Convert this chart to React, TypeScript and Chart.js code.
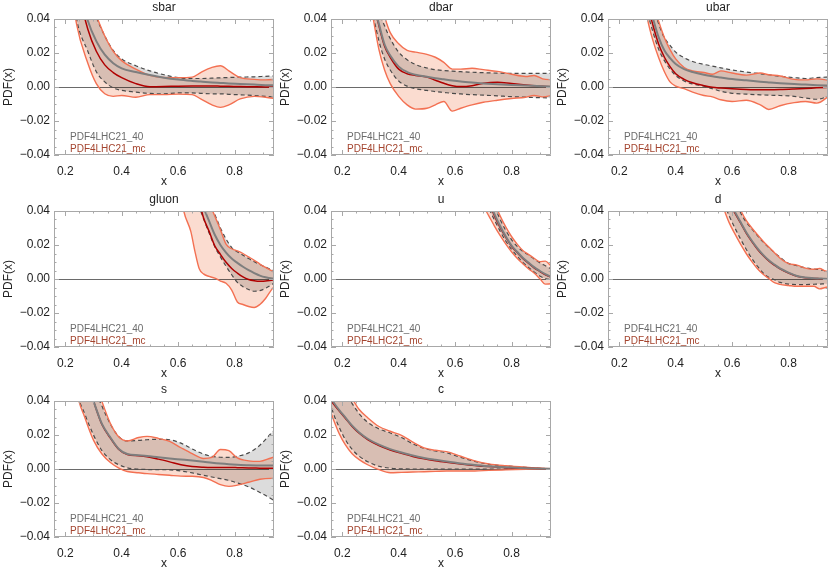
import React, { useEffect, useRef } from 'react';
import { Chart, registerables } from 'chart.js';

Chart.register(...registerables);
Chart.defaults.font.family = "'Liberation Sans', Arial, Helvetica, sans-serif";
Chart.defaults.color = '#222';

// ---------- axes / ticks ----------
const X_MIN = 0.16;
const X_MAX = 0.94;
const Y_MIN = -0.04;
const Y_MAX = 0.04;
const xTickValues = [0.2, 0.25, 0.3, 0.35, 0.4, 0.45, 0.5, 0.55, 0.6, 0.65, 0.7, 0.75, 0.8, 0.85, 0.9];
const xMajorTicks = [0.2, 0.4, 0.6, 0.8];
const yTickValues = [-0.04, -0.035, -0.03, -0.025, -0.02, -0.015, -0.01, -0.005, 0, 0.005, 0.01, 0.015, 0.02, 0.025, 0.03, 0.035, 0.04];
const yMajorTicks = [-0.04, -0.02, 0, 0.02, 0.04];
const legendLabels = ['PDF4LHC21_40', 'PDF4LHC21_mc'];
const xAxisTitle = 'x';
const yAxisTitle = 'PDF(x)';

// ---------- sbar ----------
const sbarX = [0.2, 0.24, 0.28, 0.31, 0.34, 0.37, 0.4, 0.45, 0.5, 0.55, 0.6, 0.65, 0.68, 0.72, 0.75, 0.78, 0.82, 0.87, 0.91, 0.95];
const sbar40Up = [0.15, 0.09, 0.054, 0.041, 0.03, 0.0215, 0.0165, 0.0125, 0.0095, 0.0072, 0.0055, 0.005, 0.005, 0.0052, 0.0054, 0.0056, 0.0058, 0.006, 0.0063, 0.0066];
const sbar40Lo = [0.09, 0.04, 0.021, 0.009, 0.003, -0.0005, -0.002, -0.003, -0.0038, -0.004, -0.0035, -0.0035, -0.0037, -0.004, -0.004, -0.0043, -0.0046, -0.005, -0.0055, -0.006];
const sbar40Mid = [0.12, 0.065, 0.039, 0.027, 0.019, 0.014, 0.011, 0.0088, 0.007, 0.0055, 0.0044, 0.0036, 0.0032, 0.0027, 0.0024, 0.0021, 0.0018, 0.0014, 0.0011, 0.0009];
const sbarMcUp = [0.15, 0.09, 0.055, 0.042, 0.03, 0.021, 0.0155, 0.0105, 0.0068, 0.0056, 0.0055, 0.0058, 0.0085, 0.0115, 0.0125, 0.0095, 0.0055, 0.0045, 0.0042, 0.0045];
const sbarMcLo = [0.085, 0.037, 0.014, 0.002, -0.004, -0.0055, -0.005, -0.006, -0.0045, -0.0045, -0.0042, -0.0045, -0.007, -0.0105, -0.012, -0.0105, -0.007, -0.0055, -0.006, -0.007];
const sbarMcMid = [0.11, 0.062, 0.034, 0.021, 0.013, 0.0085, 0.0055, 0.002, 0.0002, 0.0003, 0.0005, 0.0006, 0.0006, 0.0006, 0.0005, 0.0004, 0.0003, 0.0001, 0, 0];

// ---------- dbar ----------
const dbarX = [0.28, 0.31, 0.33, 0.35, 0.37, 0.4, 0.43, 0.46, 0.5, 0.53, 0.56, 0.59, 0.62, 0.66, 0.7, 0.75, 0.8, 0.85, 0.88, 0.91, 0.95];
const dbar40Up = [0.09, 0.06, 0.045, 0.036, 0.0285, 0.0205, 0.016, 0.0132, 0.0112, 0.0102, 0.0097, 0.0093, 0.009, 0.0087, 0.0084, 0.0082, 0.008, 0.008, 0.008, 0.008, 0.0081];
const dbar40Lo = [0.07, 0.042, 0.027, 0.0165, 0.01, 0.0035, 0.0005, -0.001, -0.002, -0.0027, -0.0032, -0.0037, -0.0041, -0.0045, -0.0048, -0.0052, -0.0057, -0.006, -0.0062, -0.0063, -0.0065];
const dbar40Mid = [0.08, 0.05, 0.037, 0.025, 0.0185, 0.012, 0.0088, 0.0072, 0.006, 0.0052, 0.0045, 0.0038, 0.0032, 0.0026, 0.0021, 0.0016, 0.0012, 0.0009, 0.0007, 0.0005, 0.0003];
const dbarMcUp = [0.11, 0.07, 0.055, 0.0415, 0.032, 0.0255, 0.0215, 0.0205, 0.0192, 0.0175, 0.0145, 0.0105, 0.0105, 0.011, 0.0102, 0.0092, 0.0075, 0.0062, 0.0068, 0.0048, 0.0042];
const dbarMcLo = [0.07, 0.04, 0.022, 0.01, 0.002, -0.0055, -0.0105, -0.013, -0.0125, -0.0105, -0.0085, -0.0142, -0.0125, -0.0105, -0.009, -0.0078, -0.0068, -0.006, -0.005, -0.0058, -0.0048];
const dbarMcMid = [0.08, 0.05, 0.036, 0.024, 0.0175, 0.0105, 0.0078, 0.0068, 0.0058, 0.004, 0.0022, 0.0008, 0.0003, 0.0008, 0.0022, 0.0028, 0.002, 0.0012, 0.0008, 0.0004, 0];

// ---------- ubar ----------
const ubarX = [0.27, 0.3, 0.32, 0.34, 0.36, 0.38, 0.4, 0.43, 0.46, 0.5, 0.53, 0.56, 0.6, 0.65, 0.7, 0.73, 0.77, 0.82, 0.86, 0.9, 0.95];
const ubar40Up = [0.1, 0.062, 0.048, 0.037, 0.029, 0.0245, 0.0205, 0.0172, 0.015, 0.0133, 0.0123, 0.0113, 0.01, 0.0088, 0.0078, 0.0072, 0.0063, 0.0055, 0.005, 0.0055, 0.006];
const ubar40Lo = [0.08, 0.045, 0.032, 0.022, 0.0155, 0.0105, 0.0068, 0.0035, 0.0018, 0.0005, -0.001, -0.0025, -0.0037, -0.0042, -0.0046, -0.0048, -0.005, -0.0055, -0.0065, -0.0072, -0.005];
const ubar40Mid = [0.09, 0.053, 0.04, 0.029, 0.0215, 0.017, 0.0135, 0.0105, 0.0088, 0.0072, 0.0063, 0.0056, 0.0047, 0.0039, 0.0031, 0.0027, 0.0022, 0.0017, 0.0014, 0.0011, 0.0008];
const ubarMcUp = [0.11, 0.07, 0.05, 0.0385, 0.029, 0.022, 0.0165, 0.0115, 0.0095, 0.0085, 0.0075, 0.0095, 0.0082, 0.007, 0.0082, 0.0072, 0.0065, 0.0045, 0.0042, 0.0048, 0.0038];
const ubarMcLo = [0.07, 0.04, 0.027, 0.017, 0.009, 0.003, 0.0005, -0.001, -0.003, -0.005, -0.0058, -0.0075, -0.0085, -0.0078, -0.0105, -0.0132, -0.011, -0.0092, -0.0085, -0.0095, -0.0045];
const ubarMcMid = [0.09, 0.05, 0.036, 0.025, 0.0175, 0.012, 0.0078, 0.0045, 0.0025, 0.0008, -0.0002, -0.0006, -0.001, -0.0014, -0.0016, -0.0016, -0.0015, -0.0012, -0.0009, -0.0005, -0.0001];

// ---------- gluon ----------
const gluonX = [0.6, 0.62, 0.645, 0.66, 0.675, 0.69, 0.71, 0.73, 0.75, 0.77, 0.79, 0.81, 0.83, 0.85, 0.87, 0.89, 0.91, 0.935, 0.96];
const gluon40Up = [0.1, 0.09, 0.075, 0.067, 0.06, 0.052, 0.045, 0.038, 0.03, 0.0235, 0.0185, 0.016, 0.014, 0.012, 0.0102, 0.0085, 0.007, 0.0052, 0.0035];
const gluon40Lo = [0.06, 0.052, 0.047, 0.045, 0.042, 0.0355, 0.027, 0.019, 0.013, 0.0075, 0.0025, -0.002, -0.0045, -0.0062, -0.0072, -0.0068, -0.0055, -0.003, -0.0015];
const gluon40Mid = [0.08, 0.07, 0.06, 0.054, 0.048, 0.042, 0.034, 0.026, 0.02, 0.0155, 0.012, 0.0095, 0.0072, 0.0052, 0.0035, 0.002, 0.001, 0.0003, 0];
const gluonMcUp = [0.1, 0.09, 0.075, 0.067, 0.06, 0.052, 0.045, 0.037, 0.029, 0.0205, 0.0178, 0.0165, 0.015, 0.013, 0.011, 0.0088, 0.0068, 0.0045, 0.0025];
const gluonMcLo = [0.06, 0.04, 0.028, 0.016, 0.006, 0.003, 0.0015, 0.0005, -0.0012, -0.0025, -0.0065, -0.0135, -0.015, -0.0162, -0.0168, -0.015, -0.0115, -0.0055, -0.002];
const gluonMcMid = [0.07, 0.06, 0.052, 0.048, 0.045, 0.036, 0.028, 0.0195, 0.0145, 0.0098, 0.0062, 0.0035, 0.0012, -0.0003, -0.001, -0.0013, -0.0012, -0.0006, -0.0002];

// ---------- u ----------
const uX = [0.68, 0.7, 0.72, 0.74, 0.76, 0.78, 0.8, 0.82, 0.84, 0.86, 0.88, 0.9, 0.92, 0.94, 0.96];
const u40Up = [0.065, 0.057, 0.05, 0.0425, 0.035, 0.0285, 0.0232, 0.0192, 0.0162, 0.0142, 0.0118, 0.0096, 0.0078, 0.006, 0.0045];
const u40Lo = [0.056, 0.049, 0.0415, 0.0345, 0.028, 0.0222, 0.0175, 0.0135, 0.0098, 0.0068, 0.0042, 0.0018, 0.0003, -0.0003, -0.0006];
const u40Mid = [0.06, 0.053, 0.046, 0.038, 0.031, 0.025, 0.0197, 0.016, 0.0125, 0.0097, 0.007, 0.0048, 0.0028, 0.0013, 0.0004];
const uMcUp = [0.068, 0.06, 0.052, 0.0445, 0.037, 0.0305, 0.025, 0.0205, 0.0168, 0.0145, 0.0122, 0.0102, 0.0105, 0.0078, 0.006];
const uMcLo = [0.05, 0.043, 0.037, 0.031, 0.0255, 0.0205, 0.016, 0.0122, 0.009, 0.006, 0.0035, 0.0003, -0.003, -0.0028, -0.002];
const uMcMid = [0.059, 0.052, 0.045, 0.037, 0.0302, 0.0245, 0.0193, 0.0156, 0.0121, 0.0093, 0.0066, 0.0045, 0.0025, 0.0011, 0.0003];

// ---------- d ----------
const dX = [0.55, 0.57, 0.59, 0.61, 0.63, 0.65, 0.67, 0.69, 0.71, 0.73, 0.75, 0.77, 0.8, 0.83, 0.86, 0.89, 0.91, 0.93, 0.96];
const d40Up = [0.07, 0.062, 0.054, 0.047, 0.039, 0.0335, 0.0295, 0.0255, 0.0218, 0.0185, 0.0155, 0.0128, 0.0092, 0.0078, 0.0066, 0.0058, 0.0055, 0.0048, 0.0043];
const d40Lo = [0.052, 0.045, 0.037, 0.03, 0.0235, 0.0175, 0.012, 0.0075, 0.0035, 0.001, -0.0004, -0.002, -0.003, -0.0033, -0.0033, -0.0031, -0.003, -0.0028, -0.0027];
const d40Mid = [0.06, 0.053, 0.046, 0.0395, 0.0335, 0.0275, 0.0225, 0.018, 0.0142, 0.011, 0.0085, 0.0062, 0.0038, 0.0018, 0.0009, 0.0005, 0.0003, 0.0001, 0];
const dMcUp = [0.072, 0.064, 0.056, 0.048, 0.0405, 0.0345, 0.03, 0.026, 0.0222, 0.0188, 0.0155, 0.0122, 0.009, 0.0082, 0.0064, 0.0057, 0.0062, 0.0048, 0.0035];
const dMcLo = [0.05, 0.0415, 0.033, 0.0265, 0.0205, 0.015, 0.0102, 0.006, 0.0028, 0.0003, -0.0022, -0.0032, -0.0038, -0.0043, -0.0043, -0.0043, -0.0058, -0.005, -0.0035];
const dMcMid = [0.059, 0.052, 0.045, 0.0388, 0.033, 0.027, 0.022, 0.0175, 0.0138, 0.0106, 0.0081, 0.0059, 0.0035, 0.0016, 0.0007, 0.0003, 0.0002, 0.0001, 0];

// ---------- s ----------
const sX = [0.2, 0.24, 0.27, 0.3, 0.33, 0.36, 0.39, 0.42, 0.46, 0.49, 0.53, 0.57, 0.61, 0.65, 0.69, 0.72, 0.75, 0.78, 0.81, 0.85, 0.89, 0.93, 0.96];
const s40Up = [0.2, 0.12, 0.078, 0.05, 0.037, 0.0265, 0.019, 0.0165, 0.0168, 0.0172, 0.0175, 0.0172, 0.0152, 0.0118, 0.0088, 0.0074, 0.0069, 0.0068, 0.0075, 0.0095, 0.014, 0.021, 0.026];
const s40Lo = [0.1, 0.047, 0.032, 0.02, 0.0108, 0.0055, 0.0025, 0.0007, -0.0001, -0.0003, -0.0004, -0.0005, -0.0012, -0.0023, -0.0037, -0.0047, -0.0057, -0.0067, -0.0082, -0.0105, -0.0138, -0.0175, -0.021];
const s40Mid = [0.15, 0.085, 0.055, 0.04, 0.0265, 0.0185, 0.0118, 0.0088, 0.0081, 0.0077, 0.0069, 0.0062, 0.0056, 0.005, 0.0043, 0.0037, 0.0032, 0.0028, 0.0025, 0.0022, 0.0021, 0.002, 0.002];
const sMcUp = [0.2, 0.12, 0.08, 0.052, 0.0395, 0.0268, 0.0188, 0.0165, 0.0185, 0.0192, 0.018, 0.0162, 0.0125, 0.009, 0.0062, 0.0068, 0.0115, 0.0108, 0.0065, 0.0048, 0.0045, 0.0065, 0.0075];
const sMcLo = [0.1, 0.046, 0.03, 0.017, 0.0088, 0.0038, 0.0005, -0.0015, -0.0022, -0.0027, -0.0032, -0.0037, -0.0042, -0.0043, -0.005, -0.0068, -0.0092, -0.0102, -0.0095, -0.0078, -0.006, -0.0055, -0.006];
const sMcMid = [0.15, 0.085, 0.055, 0.04, 0.0262, 0.0182, 0.0115, 0.0085, 0.0078, 0.0072, 0.0058, 0.0042, 0.0025, 0.0014, 0.001, 0.0009, 0.0009, 0.0009, 0.0008, 0.0006, 0.0005, 0.0004, 0.0004];

// ---------- c ----------
const cX = [0.155, 0.17, 0.19, 0.21, 0.235, 0.26, 0.29, 0.33, 0.37, 0.41, 0.45, 0.49, 0.53, 0.57, 0.62, 0.67, 0.72, 0.78, 0.85, 0.92, 0.96];
const c40Up = [0.065, 0.058, 0.051, 0.045, 0.0385, 0.0325, 0.0275, 0.0236, 0.0212, 0.0185, 0.0148, 0.0122, 0.0106, 0.0095, 0.0068, 0.0045, 0.0028, 0.0018, 0.001, 0.0003, 0.0001];
const c40Lo = [0.0395, 0.032, 0.0242, 0.0175, 0.0115, 0.0075, 0.0043, 0.0016, 0.0005, 0.0001, 0, 0, 0, 0, 0, 0, 0, 0, 0, 0, 0];
const c40Mid = [0.043, 0.039, 0.0345, 0.0305, 0.0255, 0.0215, 0.0178, 0.0143, 0.0117, 0.0097, 0.0079, 0.0065, 0.0054, 0.0044, 0.0033, 0.0024, 0.0016, 0.001, 0.0005, 0.0002, 0.0001];
const cMcUp = [0.068, 0.061, 0.054, 0.048, 0.0415, 0.035, 0.0302, 0.025, 0.0222, 0.0198, 0.0158, 0.0124, 0.011, 0.0102, 0.0075, 0.0048, 0.003, 0.0019, 0.001, 0.0003, 0.0001];
const cMcLo = [0.0355, 0.0286, 0.0205, 0.0145, 0.009, 0.0055, 0.0025, -0.0004, -0.0022, -0.002, -0.0018, -0.0016, -0.0014, -0.0012, -0.0012, -0.0012, -0.0008, -0.0005, -0.0002, 0, 0];
const cMcMid = [0.042, 0.038, 0.034, 0.03, 0.025, 0.021, 0.0173, 0.0138, 0.0112, 0.0092, 0.0074, 0.006, 0.0049, 0.004, 0.003, 0.0021, 0.0014, 0.0008, 0.0004, 0.0001, 0];

const panels = [
  { title: 'sbar', x: sbarX, up40: sbar40Up, lo40: sbar40Lo, mid40: sbar40Mid, upMc: sbarMcUp, loMc: sbarMcLo, midMc: sbarMcMid },
  { title: 'dbar', x: dbarX, up40: dbar40Up, lo40: dbar40Lo, mid40: dbar40Mid, upMc: dbarMcUp, loMc: dbarMcLo, midMc: dbarMcMid },
  { title: 'ubar', x: ubarX, up40: ubar40Up, lo40: ubar40Lo, mid40: ubar40Mid, upMc: ubarMcUp, loMc: ubarMcLo, midMc: ubarMcMid },
  { title: 'gluon', x: gluonX, up40: gluon40Up, lo40: gluon40Lo, mid40: gluon40Mid, upMc: gluonMcUp, loMc: gluonMcLo, midMc: gluonMcMid },
  { title: 'u', x: uX, up40: u40Up, lo40: u40Lo, mid40: u40Mid, upMc: uMcUp, loMc: uMcLo, midMc: uMcMid },
  { title: 'd', x: dX, up40: d40Up, lo40: d40Lo, mid40: d40Mid, upMc: dMcUp, loMc: dMcLo, midMc: dMcMid },
  { title: 's', x: sX, up40: s40Up, lo40: s40Lo, mid40: s40Mid, upMc: sMcUp, loMc: sMcLo, midMc: sMcMid },
  { title: 'c', x: cX, up40: c40Up, lo40: c40Lo, mid40: c40Mid, upMc: cMcUp, loMc: cMcLo, midMc: cMcMid },
];

// ---------- styles ----------
const COL_LEFT = [0, 277, 554];
const COL_WIDTH = [277, 277, 276];
const COL_PAD_RIGHT = [3, 3, 2];
const ROW_TOP = [0, 192, 382];
const PANEL_H = 190;

const FRAME_COLOR = '#a8a8a8';
const ZERO_COLOR = '#6a6a6a';
const GRAY_FILL = 'rgb(220,220,220)';
const MC_FILL = 'rgb(251,220,208)';
const DASH_COLOR = '#4a4a4a';
const MC_LINE = 'rgb(243,112,82)';
const MID40_COLOR = '#7e7e7e';
const MIDMC_COLOR = '#b00000';
const LEGEND_COLORS = ['#6b6b6b', '#a4442e'];

const near = (v: number, list: number[]) => list.some((m) => Math.abs(m - v) < 1e-9);
const fmtY = (v: number) => v.toFixed(2).replace('-', '\u2212');

const pts = (xs: number[], ys: number[]) => xs.map((x, i) => ({ x, y: ys[i] }));

const panelPlugin = {
  id: 'panelDecor',
  beforeDraw(chart: any) {
    const ctx = chart.ctx;
    ctx.save();
    ctx.fillStyle = '#ffffff';
    ctx.fillRect(0, 0, chart.width, chart.height);
    ctx.restore();
    // band fills (drawn by the Filler before the dataset lines) are blended multiplicatively
    ctx.globalCompositeOperation = 'multiply';
  },
  beforeDatasetsDraw(chart: any) {
    chart.ctx.globalCompositeOperation = 'source-over';
  },
  afterDatasetsDraw(chart: any) {
    const ctx = chart.ctx;
    const { left, right, top, bottom } = chart.chartArea;
    const xs = chart.scales.x;
    const ys = chart.scales.y;
    ctx.save();
    ctx.strokeStyle = FRAME_COLOR;
    ctx.lineWidth = 1;
    ctx.beginPath();
    ctx.rect(Math.round(left) + 0.5, Math.round(top) + 0.5, Math.round(right - left) - 1, Math.round(bottom - top) - 1);
    ctx.stroke();
    ctx.beginPath();
    xTickValues.forEach((v) => {
      const px = Math.round(xs.getPixelForValue(v)) + 0.5;
      const len = near(v, xMajorTicks) ? 5 : 2.5;
      ctx.moveTo(px, bottom);
      ctx.lineTo(px, bottom - len);
      ctx.moveTo(px, top);
      ctx.lineTo(px, top + len);
    });
    yTickValues.forEach((v) => {
      const py = Math.round(ys.getPixelForValue(v)) + 0.5;
      const len = near(v, yMajorTicks) ? 5 : 2.5;
      ctx.moveTo(left, py);
      ctx.lineTo(left + len, py);
      ctx.moveTo(right, py);
      ctx.lineTo(right - len, py);
    });
    ctx.stroke();
    ctx.restore();
  },
  afterDraw(chart: any) {
    const ctx = chart.ctx;
    const { left, bottom } = chart.chartArea;
    ctx.save();
    ctx.globalCompositeOperation = 'source-over';
    ctx.font = "10px 'Liberation Sans', Arial, Helvetica, sans-serif";
    ctx.textAlign = 'left';
    ctx.textBaseline = 'middle';
    ctx.fillStyle = LEGEND_COLORS[0];
    ctx.fillText(legendLabels[0], left + 16, bottom - 17.3);
    ctx.fillStyle = LEGEND_COLORS[1];
    ctx.fillText(legendLabels[1], left + 16, bottom - 5.5);
    ctx.restore();
  },
};

function Panel({ spec, col, row }: any) {
  const ref = useRef<HTMLCanvasElement>(null);
  const width = COL_WIDTH[col];
  useEffect(() => {
    const line = { pointRadius: 0, cubicInterpolationMode: 'monotone' as const };
    const chart = new Chart(ref.current as HTMLCanvasElement, {
      type: 'line',
      data: {
        datasets: [
          { ...line, label: 'PDF4LHC21_40 upper', data: pts(spec.x, spec.up40), borderColor: DASH_COLOR, borderWidth: 1.2, borderDash: [4, 3], backgroundColor: GRAY_FILL, fill: '+1', order: 6 },
          { ...line, label: 'PDF4LHC21_40 lower', data: pts(spec.x, spec.lo40), borderColor: DASH_COLOR, borderWidth: 1.2, borderDash: [4, 3], fill: false, order: 5 },
          { ...line, label: 'PDF4LHC21_mc upper', data: pts(spec.x, spec.upMc), borderColor: MC_LINE, borderWidth: 1.4, backgroundColor: MC_FILL, fill: '+1', order: 4 },
          { ...line, label: 'PDF4LHC21_mc lower', data: pts(spec.x, spec.loMc), borderColor: MC_LINE, borderWidth: 1.4, fill: false, order: 3 },
          { ...line, label: 'PDF4LHC21_mc', data: pts(spec.x, spec.midMc), borderColor: MIDMC_COLOR, borderWidth: 1.5, fill: false, order: 2 },
          { ...line, label: 'PDF4LHC21_40', data: pts(spec.x, spec.mid40), borderColor: MID40_COLOR, borderWidth: 2, fill: false, order: 1 },
        ],
      },
      options: {
        animation: false,
        responsive: false,
        events: [],
        layout: { padding: { left: 0, top: 0, bottom: 0, right: COL_PAD_RIGHT[col] } },
        plugins: {
          legend: { display: false },
          tooltip: { enabled: false },
          filler: { drawTime: 'beforeDatasetsDraw' },
          title: {
            display: true,
            text: spec.title,
            fullSize: false,
            color: '#222',
            font: { size: 12, weight: 'normal' },
            padding: { top: 0.6, bottom: 4 },
          },
        },
        scales: {
          x: {
            type: 'linear',
            min: X_MIN,
            max: X_MAX,
            afterBuildTicks: (s: any) => {
              s.ticks = xTickValues.map((v) => ({ value: v }));
            },
            afterFit: (s: any) => {
              s.height = 35;
            },
            ticks: {
              autoSkip: false,
              maxRotation: 0,
              minRotation: 0,
              padding: 1,
              color: '#222',
              font: { size: 12 },
              callback: (v: any) => (near(Number(v), xMajorTicks) ? Number(v).toFixed(1) : ''),
            },
            grid: { display: false },
            border: { display: false },
            title: { display: true, text: xAxisTitle, color: '#222', font: { size: 12 }, padding: { top: 0, bottom: 1.5 } },
          },
          y: {
            type: 'linear',
            min: Y_MIN,
            max: Y_MAX,
            afterBuildTicks: (s: any) => {
              s.ticks = yTickValues.map((v) => ({ value: v }));
            },
            afterFit: (s: any) => {
              s.width = 54;
            },
            ticks: {
              autoSkip: false,
              padding: 4,
              color: '#222',
              font: { size: 12 },
              callback: (v: any) => (near(Number(v), yMajorTicks) ? fmtY(Number(v)) : ''),
            },
            grid: {
              drawTicks: false,
              lineWidth: 1,
              color: (c: any) => (c.tick && Math.abs(c.tick.value) < 1e-9 ? ZERO_COLOR : 'rgba(0,0,0,0)'),
            },
            border: { display: false },
            title: { display: true, text: yAxisTitle, color: '#222', font: { size: 12 }, padding: { top: 1.5, bottom: 0 } },
          },
        },
      },
      plugins: [panelPlugin],
    } as any);
    return () => chart.destroy();
  }, []);
  return (
    <canvas
      ref={ref}
      width={width}
      height={PANEL_H}
      style={{ position: 'absolute', left: COL_LEFT[col], top: ROW_TOP[row], width, height: PANEL_H }}
    />
  );
}

export default function App() {
  return (
    <div style={{ position: 'absolute', left: 0, top: 0, width: 830, height: 572, background: '#fff', overflow: 'hidden' }}>
      {panels.map((p, i) => (
        <Panel key={p.title} spec={p} col={i % 3} row={Math.floor(i / 3)} />
      ))}
    </div>
  );
}
